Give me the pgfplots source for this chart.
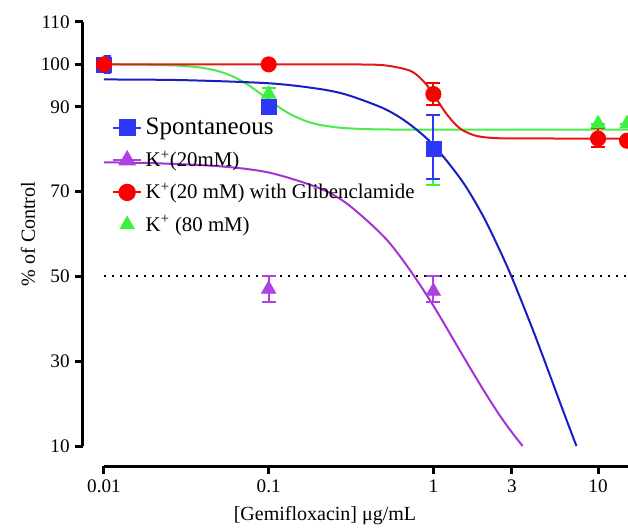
\documentclass[border=0pt]{standalone}
\usepackage{fontspec}
\setmainfont{Liberation Serif}
\usepackage{pgfplots}
\pgfplotsset{compat=1.18}
\definecolor{bM}{RGB}{45,55,245}
\definecolor{bL}{RGB}{25,30,195}
\definecolor{pM}{RGB}{175,65,225}
\definecolor{pL}{RGB}{165,50,210}
\definecolor{rM}{RGB}{250,0,0}
\definecolor{rL}{RGB}{225,25,25}
\definecolor{gM}{RGB}{60,240,60}
\definecolor{gL}{RGB}{75,235,75}
\pgfplotsset{
 gpbase/.style={scale only axis, width=314.4pt, height=254.4pt,
   ymin=10, ymax=110,
   axis line style={-, line width=1.8pt, black},
   tick align=outside, major tick length=4.5pt,
   tick style={line width=1.8pt, black},
   ticklabel style={font=\fontsize{11.5}{13}\selectfont},
   /pgf/number format/assume math mode=true},
}
\begin{document}
\begin{tikzpicture}
% y axis (offset to the left)
\begin{axis}[gpbase, xshift=-12.6pt, xmin=0, xmax=1,
  axis y line*=left, axis x line*=bottom, x axis line style={draw=none},
  xtick=\empty, ytick={10,30,50,70,90,100,110}]
\addplot[draw=none, forget plot] coordinates {(0.5,50)};
\end{axis}
% x axis (offset downward)
\begin{axis}[gpbase, yshift=-12pt, xmode=log, xmin=0.01, xmax=15.2,
  axis x line*=bottom, axis y line*=left, y axis line style={draw=none},
  ytick=\empty, xtick={0.01,0.1,1,3,10}, xticklabels={0.01,0.1,1,3,10}, minor xtick={}]
\addplot[draw=none, forget plot] coordinates {(1,50)};
\end{axis}
% data
\begin{axis}[gpbase, hide axis, xmode=log, xmin=0.01, xmax=15.2,
 legend style={at={(rel axis cs:0.005,0.79)}, anchor=north west, draw=none, fill=none,
   row sep=4.5pt, font=\fontsize{12.5}{14}\selectfont},
 legend cell align=left,
]
\coordinate (o) at (rel axis cs:0,0);
% 50% reference line
\addplot[forget plot, black, line width=1.2pt, dash pattern=on 1.2pt off 3.6pt] coordinates {(0.01,50) (15.2,50)};
% fitted curves
\addplot[forget plot, gL, line width=1.2pt, smooth] coordinates {
(0.01,100) (0.02,99.9) (0.03,99.66) (0.04,99.16) (0.05,98.35) (0.06,97.23) (0.07,95.88) (0.08,94.43) (0.09,92.98) (0.1,91.65) (0.12,89.47) (0.14,87.95) (0.17,86.57) (0.2,85.82) (0.25,85.21) (0.3,84.94) (0.4,84.73) (0.6,84.63) (1,84.6) (15.2,84.6)};
\addplot[forget plot, pL, line width=1.2pt, smooth] coordinates {
(0.01,76.9) (0.02,76.7) (0.05,75.98) (0.1,74.5) (0.2,70.9) (0.3,67.1) (0.5,59.4) (0.7,52.2) (1,43.1) (1.5,31.5) (2,23.4) (2.5,17.5) (3,13.2) (3.48,10)};
\addplot[forget plot, bL, line width=1.2pt, smooth] coordinates {
(0.01,96.45) (0.03,96.29) (0.1,95.55) (0.2,94.25) (0.3,92.8) (0.5,89.6) (0.7,86.2) (1,81.0) (1.5,72.4) (2,64.3) (2.5,56.6) (3,49.7) (4,37.6) (5,27.6) (6,19.3) (7.2,11.15) (7.4,10)};
\addplot[forget plot, rL, line width=1.2pt, smooth] coordinates {
(0.01,100) (0.1,100) (0.3,100) (0.5,99.8) (0.7,98.7) (0.8,97.4) (0.9,95.4) (1,93.0) (1.1,90.5) (1.2,88.35) (1.35,86.0) (1.5,84.5) (1.8,83.2) (2.2,82.7) (3,82.55) (15.2,82.5)};
% data points
\addplot[forget plot, only marks, gM, mark=triangle*, mark size=5pt,
  error bars/.cd, y dir=both, y explicit, error bar style={line width=1.2pt, gM},
  error mark options={rotate=90, line width=1.2pt, mark size=4.2pt, gM}] coordinates {
(0.01,100) +-(0,1) (0.1,93) +-(0,1.5) (1,80) +=(0,8) -=(0,8.5) (10,86) +-(0,0) (15,86) +-(0,0)};
\addplot[forget plot, only marks, pM, mark=triangle*, mark size=5pt,
  error bars/.cd, y dir=both, y explicit, error bar style={line width=1.2pt, pM},
  error mark options={rotate=90, line width=1.2pt, mark size=4.2pt, pM}] coordinates {
(0.01,100) +-(0,2) (0.1,47) +-(0,3) (1,46.5) +=(0,3.5) -=(0,2.5)};
\addplot[forget plot, only marks, bM, mark=square*, mark size=4.5pt,
  error bars/.cd, y dir=both, y explicit, error bar style={line width=1.2pt, bM},
  error mark options={rotate=90, line width=1.2pt, mark size=4.2pt, bM}] coordinates {
(0.01,100) +-(0,2) (0.1,90) +-(0,1.5) (1,80) +=(0,8) -=(0,7)};
\addplot[forget plot, only marks, rM, mark=*, mark size=4.6pt,
  error bars/.cd, y dir=both, y explicit, error bar style={line width=1.2pt, rM},
  error mark options={rotate=90, line width=1.2pt, mark size=4.2pt, rM}] coordinates {
(0.01,100) +-(0,0) (0.1,100) +-(0,0) (1,93) +-(0,2.5) (10,82.5) +=(0,2.5) -=(0,2) (15,82) +-(0,0)};
% legend
\addlegendimage{bM, line width=1.2pt, mark=square*, mark size=4.5pt}
\addlegendentry{\fontsize{15}{17}\selectfont Spontaneous}
\addlegendimage{pM, line width=1.2pt, mark=triangle*, mark size=5pt}
\addlegendentry{K\textsuperscript{+}(20mM)}
\addlegendimage{rM, line width=1.2pt, mark=*, mark size=4.6pt}
\addlegendentry{K\textsuperscript{+}(20 mM) with Glibenclamide}
\addlegendimage{only marks, gM, mark=triangle*, mark size=5pt}
\addlegendentry{K\textsuperscript{+} (80 mM)}
\end{axis}
\node[rotate=90] at ([shift={(-45.6pt,127.2pt)}]o) {\fontsize{12}{14}\selectfont \% of Control};
\node at ([shift={(132.6pt,-42pt)}]o) {\fontsize{12}{14}\selectfont [Gemifloxacin] μg/mL};
\pgfresetboundingbox
\path[use as bounding box] ([shift={(-62.4pt,-48.6pt)}]o) rectangle ([shift={(314.4pt,267.6pt)}]o);
\end{tikzpicture}
\end{document}
